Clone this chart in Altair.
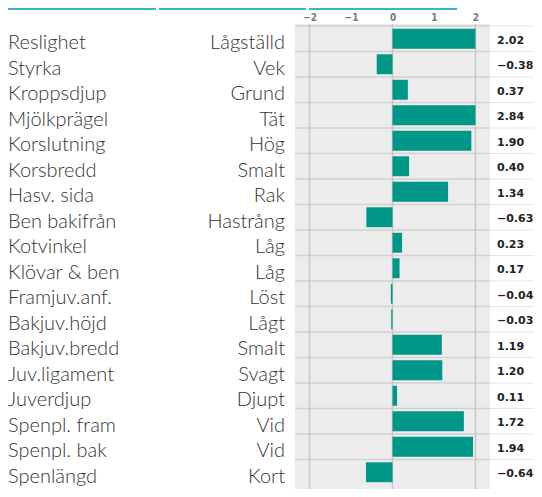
import altair as alt
import pandas as pd

categories = ["Reslighet", "Styrka", "Kroppsdjup", "Mjölkprägel", "Korslutning",
              "Korsbredd", "Hasv. sida", "Ben bakifrån", "Kotvinkel", "Klövar & ben",
              "Framjuv.anf.", "Bakjuv.höjd", "Bakjuv.bredd", "Juv.ligament",
              "Juverdjup", "Spenpl. fram", "Spenpl. bak", "Spenlängd"]
descriptors = ["Lågställd", "Vek", "Grund", "Tät", "Hög", "Smalt", "Rak", "Hastrång",
               "Låg", "Låg", "Löst", "Lågt", "Smalt", "Svagt", "Djupt", "Vid", "Vid", "Kort"]
values = [2.02, -0.38, 0.37, 2.84, 1.90, 0.40, 1.34, -0.63, 0.23, 0.17,
          -0.04, -0.03, 1.19, 1.20, 0.11, 1.72, 1.94, -0.64]
tick_values = [-2, -1, 0, 1, 2]
grid_values = [-2, 0, 2]

df = pd.DataFrame({"trait": categories, "desc": descriptors, "value": values})
grid_df = pd.DataFrame({"g": grid_values})
one = pd.DataFrame({"k": [0]})

W, H = 526, 463
ROWS_H = 459
xaxis = alt.Axis(orient="top", values=tick_values, ticks=False, domain=False,
                 grid=False, labelFontSize=10, labelColor="#777", labelFontWeight="bold",
                 labelFont="DejaVu Sans Condensed", labelPadding=4, title=None, format="d")
xscale = alt.Scale(domain=[-2.35, 2.35], range=[287, 482], nice=False, zero=False)
yscale = alt.Scale(domain=categories, range=[0, ROWS_H], paddingInner=0, paddingOuter=0)
Y = alt.Y("trait:N", scale=yscale, axis=None)
Ytop = alt.Y("trait:N", scale=yscale, axis=None, bandPosition=0)

base = alt.Chart(df)

bg = alt.Chart(one).mark_rect(color="#ececec").encode(
    x=alt.value(287), x2=alt.value(482), y=alt.value(-2), y2=alt.value(H + 10))

white = base.mark_rect(color="white").encode(
    x=alt.value(482), x2=alt.value(W), y=Y)

sep_gray = base.mark_rule(color="#d2d2d2", strokeWidth=1.5).encode(
    x=alt.value(287), x2=alt.value(482), y=Ytop)
sep_white = base.mark_rule(color="#e6e6e6", strokeWidth=1.2).encode(
    x=alt.value(482), x2=alt.value(W), y=Ytop)

grid = alt.Chart(grid_df).mark_rule(color="#c8c8c8", strokeWidth=1.5).encode(
    x=alt.X("g:Q", scale=xscale, axis=xaxis), y=alt.value(-2), y2=alt.value(H + 10))

bars = base.transform_calculate(
    shown="clamp(datum.value, -2, 2)"
).mark_bar(color="#009688", height={"band": 0.78}).encode(
    x=alt.X("shown:Q", scale=xscale, axis=xaxis),
    x2=alt.datum(0),
    y=Y)

lab = base.mark_text(align="left", baseline="alphabetic", dy=10.5, fontSize=20,
                     font="Lato", fontWeight=300, color="#333").encode(
    x=alt.value(0), y=Y, text="trait:N")

desc = base.mark_text(align="right", baseline="alphabetic", dy=10.5, fontSize=20,
                      font="Lato", fontWeight=300, color="#333").encode(
    x=alt.value(277), y=Y, text="desc:N")

vals = base.mark_text(align="left", baseline="alphabetic", dy=5, fontSize=11,
                      font="DejaVu Sans", fontWeight="bold", color="#222").encode(
    x=alt.value(489), y=Y, text=alt.Text("value:Q", format=".2f"))

tabs = []
for a, b in [(0, 148), (151, 298), (301, 449)]:
    tabs.append(alt.Chart(one).mark_rule(color="#3bb4cc", strokeWidth=2).encode(
        x=alt.value(a), x2=alt.value(b), y=alt.value(-17)))

chart = alt.layer(bg, white, sep_gray, sep_white, grid, bars, lab, desc, vals, *tabs).properties(
    width=W, height=H,
    autosize=alt.AutoSizeParams(type="none"),
    padding={"left": 0, "top": 18, "right": 0, "bottom": 0},
).configure_view(strokeWidth=0)

chart.save("out.html", embed_options={"renderer": "svg", "actions": False})
